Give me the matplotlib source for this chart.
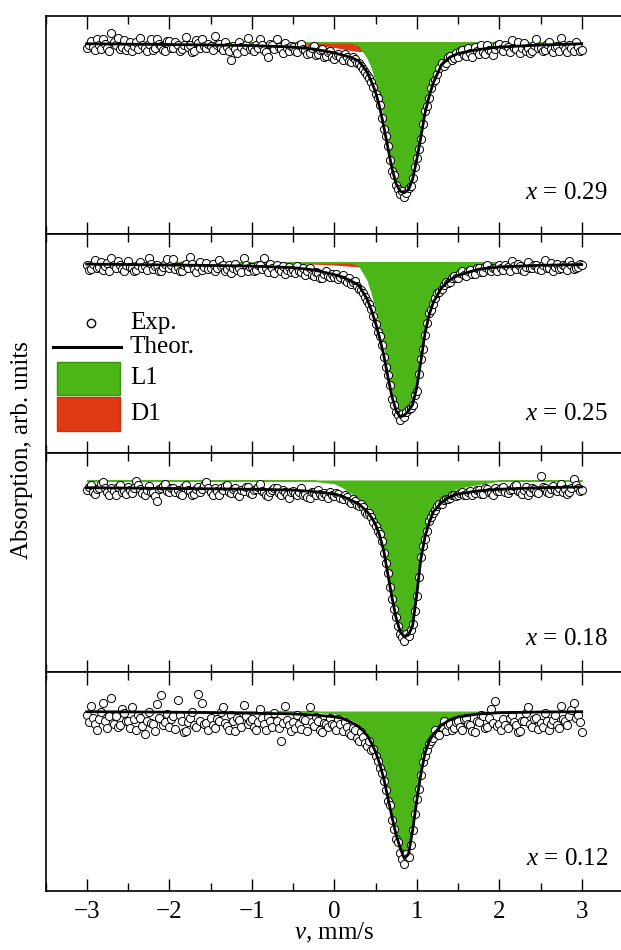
import numpy as np
import matplotlib
matplotlib.use("Agg")
import matplotlib.pyplot as plt
from matplotlib.patches import Rectangle
from matplotlib.ticker import MultipleLocator

plt.rcParams['font.family'] = ['Liberation Serif', 'DejaVu Serif']
plt.rcParams['mathtext.fontset'] = 'custom'
plt.rcParams['mathtext.rm'] = 'Liberation Serif'
plt.rcParams['mathtext.it'] = 'Liberation Serif:italic'

# ---------------- data ----------------
COMPOSITION = [0.29, 0.25, 0.18, 0.12]

# velocity channels of the experimental spectra (mm/s)
V_MIN, V_MAX, N_CH = -3.0, 3.0, 241
V_EXP = np.linspace(V_MIN, V_MAX, N_CH)

# velocities at which the fitted curves are tabulated (mm/s)
V_FIT = [-3.0, -2.0, -1.5, -1.0, -0.5, -0.25, 0.0, 0.1, 0.2, 0.3, 0.4, 0.45,
         0.5, 0.55, 0.6, 0.65, 0.7, 0.75, 0.8, 0.85, 0.9, 0.95, 1.0, 1.05,
         1.1, 1.15, 1.2, 1.3, 1.4, 1.5, 1.75, 2.0, 2.5, 3.0]

# theoretical (total) absorption, normalised
THEOR_029 = [0.010, 0.015, 0.018, 0.022, 0.032, 0.045, 0.070, 0.085, 0.100, 0.125, 0.200, 0.260,
             0.330, 0.430, 0.560, 0.700, 0.840, 0.940, 0.990, 1.000, 0.980, 0.910, 0.780, 0.630,
             0.470, 0.360, 0.270, 0.150, 0.100, 0.075, 0.048, 0.032, 0.018, 0.010]
THEOR_025 = [0.012, 0.018, 0.021, 0.025, 0.035, 0.050, 0.080, 0.095, 0.120, 0.150, 0.240, 0.310,
             0.390, 0.490, 0.600, 0.740, 0.870, 0.960, 1.000, 0.990, 0.960, 0.920, 0.810, 0.640,
             0.460, 0.340, 0.260, 0.165, 0.115, 0.085, 0.045, 0.030, 0.020, 0.015]
THEOR_018 = [0.045, 0.050, 0.052, 0.055, 0.060, 0.070, 0.085, 0.100, 0.125, 0.150, 0.200, 0.235,
             0.280, 0.350, 0.450, 0.600, 0.750, 0.880, 0.970, 1.000, 0.990, 0.930, 0.730, 0.500,
             0.360, 0.270, 0.200, 0.140, 0.105, 0.085, 0.065, 0.055, 0.045, 0.040]
THEOR_012 = [0.000, 0.003, 0.006, 0.010, 0.015, 0.022, 0.034, 0.045, 0.070, 0.100, 0.160, 0.210,
             0.270, 0.350, 0.450, 0.580, 0.710, 0.830, 0.920, 0.990, 0.960, 0.800, 0.600, 0.420,
             0.280, 0.200, 0.155, 0.090, 0.055, 0.035, 0.015, 0.007, 0.002, 0.000]

# L1 component
L1_029 = [0.0, 0.0, 0.0, 0.0, 0.0, 0.0, 0.0, 0.0, 0.0, 0.020, 0.100, 0.160,
          0.250, 0.355, 0.490, 0.640, 0.790, 0.920, 0.970, 0.980, 0.960, 0.890, 0.760, 0.610,
          0.450, 0.340, 0.250, 0.130, 0.080, 0.050, 0.020, 0.0, 0.0, 0.0]
L1_025 = [0.0, 0.0, 0.0, 0.0, 0.0, 0.0, 0.0, 0.0, 0.0, 0.020, 0.110, 0.190,
          0.290, 0.400, 0.520, 0.670, 0.815, 0.930, 0.980, 0.980, 0.950, 0.900, 0.780, 0.610,
          0.440, 0.320, 0.240, 0.140, 0.090, 0.060, 0.020, 0.0, 0.0, 0.0]
L1_018 = [0.0, 0.0, 0.0, 0.0, 0.0, 0.0, 0.015, 0.040, 0.075, 0.110, 0.160, 0.195,
          0.240, 0.310, 0.415, 0.565, 0.720, 0.860, 0.950, 0.980, 0.970, 0.900, 0.700, 0.470,
          0.330, 0.240, 0.170, 0.110, 0.070, 0.045, 0.020, 0.0, 0.0, 0.0]
L1_012 = [0.0, 0.0, 0.0, 0.0, 0.0, 0.0, 0.010, 0.025, 0.050, 0.080, 0.140, 0.190,
          0.250, 0.330, 0.430, 0.560, 0.690, 0.810, 0.905, 0.970, 0.940, 0.780, 0.570, 0.390,
          0.260, 0.180, 0.135, 0.080, 0.045, 0.025, 0.008, 0.0, 0.0, 0.0]

# D1 component
D1_029 = [0.0, 0.002, 0.003, 0.005, 0.010, 0.017, 0.030, 0.040, 0.050, 0.057, 0.058, 0.057,
          0.055, 0.053, 0.052, 0.052, 0.052, 0.052, 0.052, 0.052, 0.052, 0.052, 0.051, 0.050,
          0.048, 0.045, 0.042, 0.035, 0.025, 0.016, 0.007, 0.004, 0.001, 0.0]
D1_025 = [0.0, 0.001, 0.002, 0.003, 0.005, 0.008, 0.014, 0.018, 0.022, 0.026, 0.028, 0.028,
          0.028, 0.028, 0.028, 0.028, 0.028, 0.028, 0.028, 0.028, 0.028, 0.028, 0.027, 0.026,
          0.025, 0.024, 0.023, 0.020, 0.015, 0.010, 0.005, 0.003, 0.001, 0.0]

# experimental points (normalised absorption), one row = 0.5 mm/s
EXP_029 = [
    0.040, 0.02, -0.010, 0.03, 0.050, -0.02, 0.015, 0.045, -0.025, 0.01, 0.035, 0.055, -0.060, 0.00, 0.020, -0.03, 0.045, 0.03, -0.015, 0.05,
    0.030, 0.00, 0.055, 0.025, 0.000, 0.045, -0.030, 0.015, 0.040, 0.06, 0.010, -0.02, 0.050, 0.035, -0.020, 0.01, 0.025, 0.05, 0.060, -0.01,
    -0.010, 0.04, 0.035, 0.00, 0.015, 0.055, 0.045, 0.02, -0.035, 0.03, 0.020, 0.065, 0.055, -0.015, 0.005, 0.04, -0.020, 0.025, 0.040, 0.01,
    0.025, 0.05, -0.040, 0.015, 0.010, 0.035, 0.050, 0.00, 0.030, 0.06, 0.120, 0.025, 0.045, 0.07, 0.000, 0.03, 0.060, 0.015, -0.030, 0.045,
    0.035, 0.06, 0.015, 0.04, -0.025, 0.02, 0.050, 0.065, 0.100, 0.01, 0.020, 0.045, -0.020, 0.03, 0.045, 0.07, 0.005, 0.04, 0.060, 0.025,
    0.030, 0.055, 0.065, 0.02, 0.010, 0.045, 0.050, 0.075, 0.070, 0.04, 0.025, 0.085, 0.080, 0.05, 0.045, 0.10, 0.090, 0.065, 0.060, 0.095,
    0.110, 0.085, 0.075, 0.10, 0.120, 0.08, 0.095, 0.125, 0.130, 0.10, 0.110, 0.135, 0.140, 0.16, 0.175, 0.195, 0.215, 0.24, 0.265, 0.30,
    0.345, 0.37, 0.420, 0.505, 0.575, 0.62, 0.690, 0.785, 0.855, 0.88, 0.950, 0.975, 1.010, 0.99, 1.030, 1.00, 0.970, 0.955, 0.905, 0.83,
    0.770, 0.71, 0.640, 0.54, 0.460, 0.425, 0.370, 0.305, 0.265, 0.25, 0.210, 0.17, 0.140, 0.155, 0.135, 0.10, 0.090, 0.12, 0.105, 0.07,
    0.100, 0.06, 0.050, 0.085, 0.090, 0.04, 0.070, 0.095, 0.030, 0.055, 0.080, 0.02, 0.065, 0.075, 0.020, 0.05, 0.060, 0.085, 0.045, 0.015,
    0.010, 0.045, 0.055, 0.02, 0.030, 0.065, -0.015, 0.035, 0.045, 0.00, 0.070, 0.04, 0.005, 0.055, 0.040, 0.07, 0.060, 0.015, -0.020, 0.035,
    0.035, 0.06, 0.050, 0.01, 0.000, 0.045, 0.065, 0.03, 0.025, 0.055, -0.030, 0.02, 0.045, 0.065, 0.015, 0.04, 0.060, 0.00, 0.030, 0.055,
    0.050]
EXP_025 = [
    0.020, 0.05, 0.045, 0.01, -0.015, 0.035, 0.030, 0.00, 0.050, 0.025, 0.005, 0.055, -0.025, 0.02, 0.040, -0.01, 0.015, 0.045, 0.055, 0.02,
    -0.010, 0.03, 0.035, 0.055, 0.050, 0.015, 0.000, 0.04, 0.025, 0.05, -0.030, 0.01, 0.045, 0.025, 0.020, 0.055, 0.060, 0.03, 0.010, -0.02,
    0.040, 0.015, -0.020, 0.045, 0.030, 0.06, 0.055, 0.02, 0.010, 0.04, -0.035, 0.01, 0.045, 0.065, 0.025, 0.00, 0.050, 0.03, 0.005, 0.045,
    0.035, 0.01, 0.060, 0.04, -0.015, 0.025, 0.020, 0.055, 0.045, 0.015, 0.070, 0.035, 0.010, 0.05, 0.040, 0.065, -0.025, 0.02, 0.055, 0.03,
    0.030, 0.06, 0.050, 0.02, 0.015, 0.045, -0.030, 0.035, 0.065, 0.01, 0.040, 0.07, 0.020, 0.045, 0.055, 0.025, 0.075, 0.05, 0.030, 0.065,
    0.050, 0.07, 0.025, 0.055, 0.065, 0.035, 0.080, 0.06, 0.040, 0.085, 0.090, 0.065, 0.070, 0.105, 0.100, 0.075, 0.060, 0.09, 0.095, 0.075,
    0.095, 0.075, 0.110, 0.095, 0.080, 0.115, 0.125, 0.105, 0.140, 0.13, 0.120, 0.155, 0.170, 0.18, 0.200, 0.225, 0.250, 0.27, 0.300, 0.345,
    0.400, 0.45, 0.480, 0.535, 0.615, 0.68, 0.730, 0.795, 0.885, 0.925, 0.970, 0.99, 1.020, 0.98, 1.000, 0.97, 0.950, 0.945, 0.925, 0.86,
    0.830, 0.72, 0.625, 0.56, 0.470, 0.39, 0.330, 0.31, 0.270, 0.23, 0.200, 0.195, 0.175, 0.145, 0.130, 0.135, 0.125, 0.10, 0.090, 0.105,
    0.100, 0.07, 0.060, 0.085, 0.090, 0.055, 0.050, 0.075, 0.075, 0.04, 0.035, 0.065, 0.065, 0.03, 0.020, 0.05, 0.055, 0.035, 0.040, 0.06,
    0.015, 0.04, 0.050, 0.02, 0.030, 0.055, -0.010, 0.025, 0.045, 0.01, 0.025, 0.05, 0.055, 0.03, 0.000, 0.035, 0.040, 0.015, 0.020, 0.045,
    0.050, 0.02, -0.015, 0.035, 0.035, 0.005, 0.055, 0.03, 0.010, 0.045, 0.040, 0.015, 0.025, 0.05, -0.005, 0.02, 0.045, 0.035, 0.030, 0.01,
    0.020]
EXP_018 = [
    0.060, 0.04, 0.030, 0.075, 0.085, 0.055, 0.045, 0.02, 0.010, 0.05, 0.070, 0.09, 0.050, 0.065, 0.095, 0.04, 0.025, 0.07, 0.065, 0.085,
    0.040, 0.06, 0.080, 0.045, 0.000, 0.03, 0.055, 0.08, 0.090, 0.06, 0.035, 0.075, 0.070, 0.10, 0.130, 0.055, 0.050, 0.035, 0.020, 0.065,
    0.075, 0.05, 0.045, 0.07, 0.060, 0.085, 0.095, 0.04, 0.030, 0.06, 0.065, 0.09, 0.085, 0.055, 0.040, 0.075, 0.055, 0.03, 0.010, 0.05,
    0.070, 0.09, 0.045, 0.065, 0.090, 0.05, 0.060, 0.035, 0.030, 0.07, 0.080, 0.055, 0.050, 0.085, 0.100, 0.06, 0.065, 0.04, 0.040, 0.08,
    0.085, 0.06, 0.055, 0.04, 0.020, 0.065, 0.075, 0.095, 0.100, 0.07, 0.060, 0.045, 0.045, 0.08, 0.090, 0.06, 0.070, 0.095, 0.110, 0.075,
    0.065, 0.08, 0.095, 0.07, 0.050, 0.09, 0.085, 0.105, 0.110, 0.075, 0.075, 0.095, 0.060, 0.085, 0.100, 0.08, 0.090, 0.11, 0.070, 0.095,
    0.100, 0.08, 0.085, 0.11, 0.115, 0.095, 0.105, 0.13, 0.140, 0.12, 0.130, 0.155, 0.165, 0.15, 0.170, 0.20, 0.215, 0.205, 0.230, 0.265,
    0.290, 0.32, 0.345, 0.39, 0.465, 0.53, 0.590, 0.68, 0.760, 0.82, 0.875, 0.93, 0.985, 1.00, 1.030, 0.985, 0.995, 0.96, 0.920, 0.835,
    0.740, 0.62, 0.490, 0.42, 0.375, 0.32, 0.260, 0.23, 0.210, 0.19, 0.160, 0.15, 0.150, 0.125, 0.115, 0.12, 0.110, 0.095, 0.090, 0.10,
    0.095, 0.08, 0.075, 0.09, 0.090, 0.07, 0.065, 0.095, 0.080, 0.06, 0.060, 0.085, 0.085, 0.05, 0.055, 0.075, 0.070, 0.09, 0.050, 0.065,
    0.065, 0.05, 0.040, 0.07, 0.080, 0.06, 0.055, 0.035, 0.030, 0.065, 0.075, 0.085, 0.060, 0.04, 0.090, 0.07, 0.045, 0.055, 0.070, 0.08,
    -0.030, 0.04, 0.050, 0.07, 0.080, 0.055, 0.035, 0.06, 0.065, 0.045, 0.020, 0.07, 0.055, 0.085, 0.075, 0.05, -0.010, 0.03, 0.045, 0.065,
    0.060]
EXP_012 = [
    0.020, 0.07, -0.040, 0.04, 0.080, 0.12, 0.050, 0.00, -0.060, 0.06, 0.110, 0.03, -0.090, 0.085, 0.030, 0.10, 0.090, -0.02, 0.010, 0.065,
    0.060, 0.11, -0.030, 0.05, 0.120, 0.02, 0.040, 0.095, 0.150, 0.06, 0.005, 0.075, 0.085, 0.13, -0.050, 0.04, -0.115, 0.09, 0.070, 0.015,
    0.100, 0.05, 0.030, 0.115, -0.080, 0.02, 0.065, 0.14, 0.130, 0.07, 0.045, 0.00, 0.090, 0.105, -0.120, 0.06, -0.060, 0.08, 0.075, 0.125,
    0.040, 0.09, 0.110, 0.05, 0.060, 0.00, -0.030, 0.075, 0.095, 0.12, 0.020, 0.065, 0.130, 0.04, 0.055, 0.10, -0.045, 0.03, 0.085, 0.06,
    0.050, 0.10, 0.120, 0.07, -0.020, 0.04, 0.080, 0.125, 0.035, 0.065, 0.100, 0.01, 0.060, 0.11, 0.195, 0.075, -0.040, 0.055, 0.090, 0.13,
    0.070, 0.11, 0.025, 0.085, 0.115, 0.05, 0.055, 0.13, -0.030, 0.07, 0.095, 0.035, 0.060, 0.12, 0.140, 0.075, 0.080, 0.10, 0.040, 0.085,
    0.090, 0.12, 0.050, 0.085, 0.130, 0.07, 0.100, 0.145, 0.160, 0.11, 0.120, 0.175, 0.200, 0.14, 0.170, 0.21, 0.230, 0.195, 0.260, 0.25,
    0.300, 0.33, 0.380, 0.41, 0.470, 0.53, 0.600, 0.63, 0.730, 0.79, 0.860, 0.88, 0.950, 0.99, 1.030, 0.96, 0.980, 0.90, 0.800, 0.69,
    0.590, 0.52, 0.430, 0.34, 0.300, 0.26, 0.220, 0.20, 0.180, 0.12, 0.150, 0.16, 0.100, 0.06, 0.130, 0.09, 0.080, 0.12, 0.110, 0.07,
    0.060, 0.10, 0.120, 0.05, 0.040, 0.085, 0.090, 0.13, 0.140, 0.06, 0.070, 0.02, 0.030, 0.11, 0.100, 0.045, -0.020, 0.075, -0.070, 0.095,
    0.080, 0.12, 0.050, 0.09, 0.110, 0.04, 0.020, 0.07, 0.090, 0.135, 0.130, 0.065, 0.060, 0.01, -0.030, 0.085, 0.100, 0.05, 0.045, 0.115,
    0.075, 0.105, 0.010, 0.06, 0.120, 0.08, 0.055, 0.025, 0.090, 0.11, -0.040, 0.05, 0.065, 0.09, 0.030, -0.01, -0.060, 0.045, 0.020, 0.07,
    0.140]

PANELS = [
    (COMPOSITION[0], EXP_029, THEOR_029, L1_029, D1_029),
    (COMPOSITION[1], EXP_025, THEOR_025, L1_025, D1_025),
    (COMPOSITION[2], EXP_018, THEOR_018, L1_018, None),
    (COMPOSITION[3], EXP_012, THEOR_012, L1_012, None),
]

# ---------------- style / layout ----------------
GREEN = '#4cb518'
GREEN_EDGE = '#3a9212'
RED = '#e03a14'
FS = 18

W, H = 621, 950
fig = plt.figure(figsize=(W / 100, H / 100), dpi=100)

ax_left, ax_right = 45.5, 623.0
ax_top, ax_bottom = 15.5, 891.0
ph = (ax_bottom - ax_top) / 4
ylims = [(1.277, -0.178), (1.235, -0.180), (1.228, -0.176), (1.209, -0.267)]
label_y = [0.19, 0.18, 0.15, 0.147]

axes = []
for i, (comp, exp_vals, theor, l1, d1) in enumerate(PANELS):
    top_px = ax_top + i * ph
    ax = fig.add_axes([ax_left / W, 1 - (top_px + ph) / H,
                       (ax_right - ax_left) / W, ph / H])
    axes.append(ax)
    if d1 is not None:
        ax.fill_between(V_FIT, 0, d1, facecolor=RED, edgecolor=RED, lw=1.0, zorder=1)
    ax.fill_between(V_FIT, 0, l1, facecolor=GREEN, edgecolor=GREEN, lw=1.0, zorder=2)
    ax.scatter(V_EXP, exp_vals, s=34, facecolors='white', edgecolors='black',
               linewidths=0.7, zorder=3)
    ax.plot(V_FIT, theor, color='black', lw=2.0, zorder=4)

    ax.text(0.974, label_y[i], rf'$x$ = {comp:.2f}', transform=ax.transAxes,
            ha='right', va='center', fontsize=FS)

    ax.set_xlim(-3.5, 3.5)
    ax.set_ylim(*ylims[i])
    ax.xaxis.set_major_locator(MultipleLocator(1))
    ax.xaxis.set_minor_locator(MultipleLocator(0.5))
    ax.set_yticks([])
    ax.tick_params(axis='x', which='both', direction='in', top=True, bottom=True,
                   width=1.0, labelsize=FS, pad=7)
    ax.tick_params(axis='x', which='major', length=9)
    ax.tick_params(axis='x', which='minor', length=5.5)
    if i < 3:
        ax.tick_params(axis='x', labelbottom=False)
    for sp in ax.spines.values():
        sp.set_linewidth(1.2)

axes[-1].set_xlabel(r'$v$, mm/s', fontsize=FS, labelpad=-1)

# legend (panel 2)
lg = axes[1]
lg.plot([0.0788], [0.595], 'o', transform=lg.transAxes, mfc='white', mec='black',
        ms=6, mew=1.0, clip_on=False, zorder=5)
lg.text(0.146, 0.595, 'Exp.', transform=lg.transAxes, va='center', fontsize=FS)
lg.plot([0.013, 0.131], [0.486, 0.486], transform=lg.transAxes, color='black',
        lw=2.2, zorder=5)
lg.text(0.146, 0.486, 'Theor.', transform=lg.transAxes, va='center', fontsize=FS)
lg.add_patch(Rectangle((0.02, 0.266), 0.109, 0.151, transform=lg.transAxes,
                       facecolor=GREEN, edgecolor=GREEN_EDGE, lw=1.0, zorder=5))
lg.text(0.146, 0.344, 'L1', transform=lg.transAxes, va='center', fontsize=FS)
lg.add_patch(Rectangle((0.02, 0.102), 0.109, 0.155, transform=lg.transAxes,
                       facecolor=RED, edgecolor='#c83010', lw=1.0, zorder=5))
lg.text(0.146, 0.18, 'D1', transform=lg.transAxes, va='center', fontsize=FS)
lg.set_xlim(-3.5, 3.5)
lg.set_ylim(*ylims[1])

fig.text(22 / W, 1 - 450 / H, 'Absorption, arb. units', rotation=90,
         ha='center', va='center', fontsize=FS)

fig.savefig('out.png', dpi=100)
